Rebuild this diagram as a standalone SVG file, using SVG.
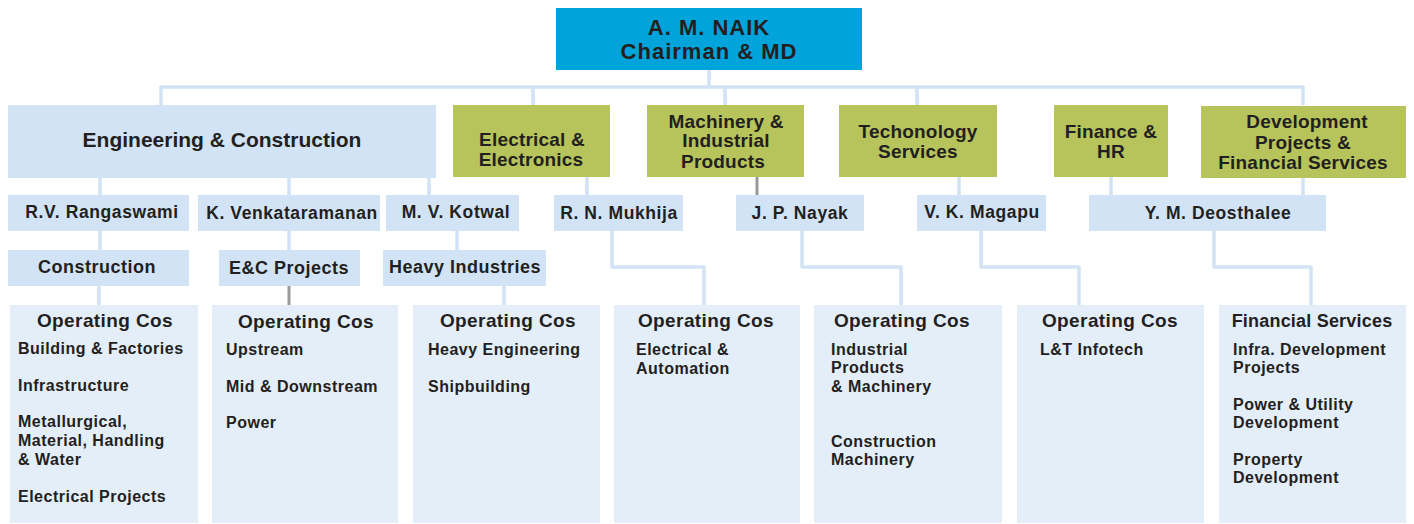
<svg xmlns="http://www.w3.org/2000/svg" width="1414" height="524" viewBox="0 0 1414 524">
  <style>
    text { font-family: "Liberation Sans", Arial, sans-serif; font-weight: bold; fill: #231F20; }
    .top { fill: #00A3DA; }
    .blue { fill: #D1E3F4; }
    .green { fill: #B6C45B; }
    .pale { fill: #E4EEF9; }
    .c { text-anchor: middle; }
    .t-top { font-size: 22px; letter-spacing: 1px; }
    .t-ec { font-size: 21px; }
    .t-div { font-size: 19px; letter-spacing: 0.2px; }
    .t-name { font-size: 17.5px; letter-spacing: 0.6px; }
    .t-unit { font-size: 18px; letter-spacing: 0.5px; }
    .t-head { font-size: 19px; letter-spacing: 0.4px; }
    .t-item { font-size: 16px; letter-spacing: 0.5px; }
    .link { fill: none; stroke: #D1E3F4; stroke-width: 3.5; stroke-linejoin: round; }
    .link-grey { fill: none; stroke: #9A9A9A; stroke-width: 3; }
  </style>

  <rect width="1414" height="524" fill="#FFFFFF"/>

  <!-- connectors -->
  <g id="connectors">
    <path class="link" d="M709 70 V87"/>
    <path class="link" d="M161 105 V87 H1303 V105"/>
    <path class="link" d="M533 87 V105"/>
    <path class="link" d="M725 87 V105"/>
    <path class="link" d="M917 87 V105"/>
    <!-- division to heads -->
    <path class="link" d="M100 178 V195"/>
    <path class="link" d="M289 178 V195"/>
    <path class="link" d="M429 178 V195"/>
    <path class="link" d="M587 177 V195"/>
    <path class="link-grey" d="M757 177 V195"/>
    <path class="link" d="M959 177 V195"/>
    <path class="link" d="M1111 177 V195"/>
    <path class="link" d="M1303 178 V195"/>
    <!-- heads to units -->
    <path class="link" d="M100 231 V250"/>
    <path class="link" d="M289 231 V250"/>
    <path class="link" d="M457 231 V250"/>
    <!-- units / heads to operating companies -->
    <path class="link" d="M99 286 V305"/>
    <path class="link-grey" d="M289 286 V305"/>
    <path class="link" d="M504 286 V305"/>
    <path class="link" d="M612 231 V267 H704 V305"/>
    <path class="link" d="M802 231 V267 H901 V305"/>
    <path class="link" d="M981 231 V267 H1079 V305"/>
    <path class="link" d="M1214 231 V267 H1311 V305"/>
  </g>

  <!-- chairman -->
  <g id="chairman">
    <rect class="top" x="556" y="8" width="306" height="62"/>
    <text class="t-top c" x="709" y="35">A. M. NAIK</text>
    <text class="t-top c" x="709" y="59">Chairman &amp; MD</text>
  </g>

  <!-- divisions -->
  <g id="div-ec">
    <rect class="blue" x="8" y="105" width="428" height="73"/>
    <text class="t-ec c" x="222" y="147">Engineering &amp; Construction</text>
  </g>
  <g id="div-electrical">
    <rect class="green" x="453" y="105" width="157" height="72"/>
    <text class="t-div c" x="532" y="146">Electrical &amp;</text>
    <text class="t-div c" x="531" y="166">Electronics</text>
  </g>
  <g id="div-machinery">
    <rect class="green" x="647" y="105" width="157" height="72"/>
    <text class="t-div c" x="726" y="128">Machinery &amp;</text>
    <text class="t-div c" x="726" y="147">Industrial</text>
    <text class="t-div c" x="723" y="168">Products</text>
  </g>
  <g id="div-technology">
    <rect class="green" x="839" y="105" width="158" height="72"/>
    <text class="t-div c" x="918" y="138">Techonology</text>
    <text class="t-div c" x="918" y="158">Services</text>
  </g>
  <g id="div-finance">
    <rect class="green" x="1054" y="105" width="114" height="72"/>
    <text class="t-div c" x="1111" y="138">Finance &amp;</text>
    <text class="t-div c" x="1111" y="158">HR</text>
  </g>
  <g id="div-development">
    <rect class="green" x="1201" y="106" width="205" height="72"/>
    <text class="t-div c" x="1307" y="128">Development</text>
    <text class="t-div c" x="1303" y="149">Projects &amp;</text>
    <text class="t-div c" x="1303" y="169">Financial Services</text>
  </g>

  <!-- heads -->
  <g id="head-rangaswami">
    <rect class="blue" x="8" y="195" width="181" height="36"/>
    <text class="t-name c" x="102" y="218">R.V. Rangaswami</text>
  </g>
  <g id="head-venkataramanan">
    <rect class="blue" x="198" y="195" width="182" height="36"/>
    <text class="t-name c" x="292" y="219">K. Venkataramanan</text>
  </g>
  <g id="head-kotwal">
    <rect class="blue" x="386" y="195" width="133" height="36"/>
    <text class="t-name c" x="456" y="218">M. V. Kotwal</text>
  </g>
  <g id="head-mukhija">
    <rect class="blue" x="554" y="195" width="129" height="36"/>
    <text class="t-name c" x="619" y="219">R. N. Mukhija</text>
  </g>
  <g id="head-nayak">
    <rect class="blue" x="736" y="195" width="128" height="36"/>
    <text class="t-name c" x="800" y="219">J. P. Nayak</text>
  </g>
  <g id="head-magapu">
    <rect class="blue" x="917" y="195" width="129" height="36"/>
    <text class="t-name c" x="982" y="218">V. K. Magapu</text>
  </g>
  <g id="head-deosthalee">
    <rect class="blue" x="1089" y="195" width="237" height="36"/>
    <text class="t-name c" x="1218" y="219">Y. M. Deosthalee</text>
  </g>

  <!-- business units -->
  <g id="unit-construction">
    <rect class="blue" x="8" y="250" width="181" height="36"/>
    <text class="t-unit c" x="97" y="273">Construction</text>
  </g>
  <g id="unit-ec-projects">
    <rect class="blue" x="219" y="250" width="141" height="36"/>
    <text class="t-unit c" x="289" y="274">E&amp;C Projects</text>
  </g>
  <g id="unit-heavy">
    <rect class="blue" x="383" y="250" width="163" height="36"/>
    <text class="t-unit c" x="465" y="273">Heavy Industries</text>
  </g>

  <!-- operating companies -->
  <g id="ops-construction">
    <rect class="pale" x="10" y="305" width="188" height="218"/>
    <text class="t-head c" x="105" y="327">Operating Cos</text>
    <text class="t-item" x="18" y="354">Building &amp; Factories</text>
    <text class="t-item" x="18" y="391">Infrastructure</text>
    <text class="t-item" x="18" y="427">Metallurgical,</text>
    <text class="t-item" x="18" y="446">Material, Handling</text>
    <text class="t-item" x="18" y="465">&amp; Water</text>
    <text class="t-item" x="18" y="502">Electrical Projects</text>
  </g>
  <g id="ops-ec-projects">
    <rect class="pale" x="212" y="305" width="186" height="218"/>
    <text class="t-head c" x="306" y="328">Operating Cos</text>
    <text class="t-item" x="226" y="355">Upstream</text>
    <text class="t-item" x="226" y="392">Mid &amp; Downstream</text>
    <text class="t-item" x="226" y="428">Power</text>
  </g>
  <g id="ops-heavy">
    <rect class="pale" x="413" y="305" width="187" height="218"/>
    <text class="t-head c" x="508" y="327">Operating Cos</text>
    <text class="t-item" x="428" y="355">Heavy Engineering</text>
    <text class="t-item" x="428" y="392">Shipbuilding</text>
  </g>
  <g id="ops-electrical">
    <rect class="pale" x="614" y="305" width="186" height="218"/>
    <text class="t-head c" x="706" y="327">Operating Cos</text>
    <text class="t-item" x="636" y="355">Electrical &amp;</text>
    <text class="t-item" x="636" y="374">Automation</text>
  </g>
  <g id="ops-machinery">
    <rect class="pale" x="814" y="305" width="188" height="218"/>
    <text class="t-head c" x="902" y="327">Operating Cos</text>
    <text class="t-item" x="831" y="355">Industrial</text>
    <text class="t-item" x="831" y="373">Products</text>
    <text class="t-item" x="831" y="392">&amp; Machinery</text>
    <text class="t-item" x="831" y="447">Construction</text>
    <text class="t-item" x="831" y="465">Machinery</text>
  </g>
  <g id="ops-technology">
    <rect class="pale" x="1017" y="305" width="187" height="218"/>
    <text class="t-head c" x="1110" y="327">Operating Cos</text>
    <text class="t-item" x="1040" y="355">L&amp;T Infotech</text>
  </g>
  <g id="ops-financial">
    <rect class="pale" x="1219" y="305" width="187" height="218"/>
    <text class="t-head c" x="1312" y="327" style="font-size:18px;letter-spacing:0.2px">Financial Services</text>
    <text class="t-item" x="1233" y="355">Infra. Development</text>
    <text class="t-item" x="1233" y="373">Projects</text>
    <text class="t-item" x="1233" y="410">Power &amp; Utility</text>
    <text class="t-item" x="1233" y="428">Development</text>
    <text class="t-item" x="1233" y="465">Property</text>
    <text class="t-item" x="1233" y="483">Development</text>
  </g>
</svg>
